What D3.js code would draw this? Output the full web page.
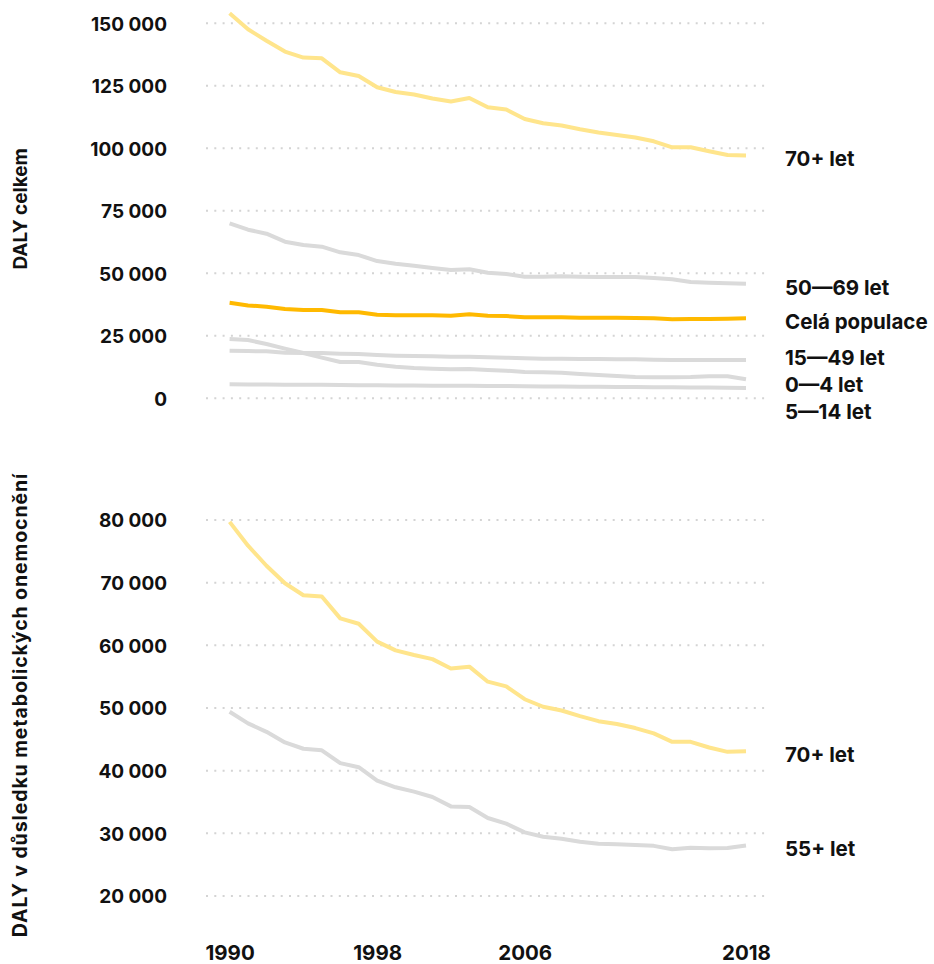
<!DOCTYPE html>
<html>
<head>
<meta charset="utf-8">
<script src="https://cdn.jsdelivr.net/npm/d3@7"></script>
<style>
  html, body { margin: 0; padding: 0; background: #fff; }
  svg text { font-family: Inter, "Noto Sans", sans-serif; font-weight: 700; fill: #111; }
</style>
</head>
<body>
<svg id="chart" width="934" height="964"></svg>
<script>
// ---------- DATA ----------
const years = d3.range(1990, 2019);
const xTickYears = [1990, 1998, 2006, 2018];

// Top panel: DALY celkem
const topTicks = [0, 25000, 50000, 75000, 100000, 125000, 150000];
const top70 = [154000,147600,143000,138700,136300,136000,130400,128900,124400,122500,121500,119900,118700,120100,116400,115500,111700,110000,109100,107600,106300,105300,104300,102800,100400,100400,98800,97300,97100];
const top50_69 = [70000,67450,65850,62650,61300,60650,58400,57300,54900,53850,53050,52100,51300,51600,50250,49700,48650,48650,48800,48650,48500,48500,48500,48100,47600,46500,46250,46000,45850];
const topAll = [38200,37150,36650,35700,35300,35300,34400,34400,33450,33200,33200,33200,33050,33600,33050,32900,32400,32400,32400,32250,32250,32250,32150,32000,31600,31750,31750,31850,32000];
const top15_49 = [19050,18900,18800,18250,18100,18100,17850,17700,17300,17050,16900,16800,16650,16650,16400,16250,15990,15850,15850,15700,15700,15600,15600,15450,15300,15300,15300,15300,15300];
const top0_4 = [23700,23300,21700,19850,18100,16250,14500,14500,13450,12650,12100,11850,11600,11700,11300,11050,10500,10400,10250,9700,9300,8900,8500,8400,8400,8500,8800,8800,7600];
const top5_14 = [5600,5550,5500,5450,5450,5400,5300,5250,5200,5150,5100,5050,5000,5000,4950,4900,4800,4750,4700,4650,4600,4550,4500,4450,4400,4350,4300,4200,4150];

// Bottom panel: DALY v důsledku metabolických onemocnění
const botTicks = [20000, 30000, 40000, 50000, 60000, 70000, 80000];
const bot70 = [79700,75900,72700,69900,68000,67800,64300,63450,60600,59200,58450,57800,56300,56600,54200,53450,51400,50200,49600,48700,47900,47450,46800,45950,44600,44600,43700,43000,43100];
const bot55 = [49400,47550,46200,44500,43500,43250,41200,40550,38400,37350,36650,35800,34300,34200,32450,31550,30150,29450,29150,28650,28350,28250,28150,28000,27450,27700,27600,27650,28050];

const topSeries = [
  { name: "5—14 let", values: top5_14, kind: "gray" },
  { name: "0—4 let", values: top0_4, kind: "gray" },
  { name: "15—49 let", values: top15_49, kind: "gray" },
  { name: "50—69 let", values: top50_69, kind: "gray" },
  { name: "70+ let", values: top70, kind: "light" },
  { name: "Celá populace", values: topAll, kind: "main" }
];
const botSeries = [
  { name: "55+ let", values: bot55, kind: "gray" },
  { name: "70+ let", values: bot70, kind: "light" }
];
const topTitle = "DALY celkem";
const botTitle = "DALY v důsledku metabolických onemocnění";

// ---------- STYLE ----------
const colors = { gray: "#dadada", light: "#ffe58c", main: "#ffb900" };
const fmt = v => d3.format(",")(v).replace(/,/g, " ");

const svg = d3.select("#chart");
const x = d3.scaleLinear().domain([1990, 2018]).range([229.6, 746]);
const gridX0 = 206, gridX1 = 769;

function panel(ticks, series, yDomain, yRange, title, titleSize, titleSpacing, titleShift, showX) {
  const y = d3.scaleLinear().domain(yDomain).range(yRange);
  const g = svg.append("g");

  // gridlines
  g.selectAll("line.grid").data(ticks).join("line")
    .attr("x1", gridX0).attr("x2", gridX1)
    .attr("y1", d => y(d)).attr("y2", d => y(d))
    .attr("stroke", "#d4d4d4").attr("stroke-width", 2)
    .attr("stroke-dasharray", "2 6.3");

  // y axis labels
  const yAxis = d3.axisLeft(y).tickValues(ticks).tickFormat(fmt).tickSize(0).tickPadding(0);
  const ya = g.append("g").attr("transform", "translate(167,0)").call(yAxis);
  ya.select(".domain").remove();
  ya.selectAll("text").attr("font-size", 19).attr("font-family", "Inter, sans-serif")
    .attr("font-weight", 700).attr("fill", "#111").attr("dy", "0.36em");

  // lines
  const line = d3.line().x((d, i) => x(years[i])).y(d => y(d));
  g.selectAll("path.series").data(series).join("path")
    .attr("fill", "none")
    .attr("stroke", d => colors[d.kind])
    .attr("stroke-width", 4)
    .attr("stroke-linejoin", "round")
    .attr("d", d => line(d.values));

  // end labels with collision avoidance (pushes mostly downward)
  const labels = series.map(s => ({ name: s.name, y: y(s.values[s.values.length - 1]) + 3.5 }))
    .sort((a, b) => a.y - b.y);
  const gap = 27;
  for (let iter = 0; iter < 500; iter++) {
    let moved = false;
    for (let i = 1; i < labels.length; i++) {
      const d = labels[i].y - labels[i - 1].y;
      if (d < gap - 0.01) {
        const c = gap - d;
        labels[i].y += c * 0.65; labels[i - 1].y -= c * 0.35; moved = true;
      }
    }
    if (!moved) break;
  }
  g.selectAll("text.lab").data(labels).join("text")
    .attr("x", 785).attr("y", d => d.y).attr("dy", "0.36em")
    .attr("font-size", 20.5).text(d => d.name);

  // axis title
  const cy = (yRange[0] + yRange[1]) / 2 + titleShift;
  g.append("text")
    .attr("transform", `translate(26.5,${cy}) rotate(-90)`)
    .attr("text-anchor", "middle").attr("font-size", titleSize)
    .attr("letter-spacing", titleSpacing)
    .text(title);

  if (showX) {
    const xAxis = d3.axisBottom(x).tickValues(xTickYears).tickFormat(d3.format("d")).tickSize(0).tickPadding(0);
    const xa = g.append("g").attr("transform", "translate(0,953)").call(xAxis);
    xa.select(".domain").remove();
    xa.selectAll("text").attr("font-size", 20.5).attr("font-family", "Inter, sans-serif")
      .attr("font-weight", 700).attr("fill", "#111").attr("dy", "0.36em");
  }
}

panel(topTicks, topSeries, [0, 150000], [398.3, 23.3], topTitle, 19, 0, -2, false);
panel(botTicks, botSeries, [20000, 80000], [896, 520], botTitle, 19.5, 0.9, -3, true);
</script>
</body>
</html>
